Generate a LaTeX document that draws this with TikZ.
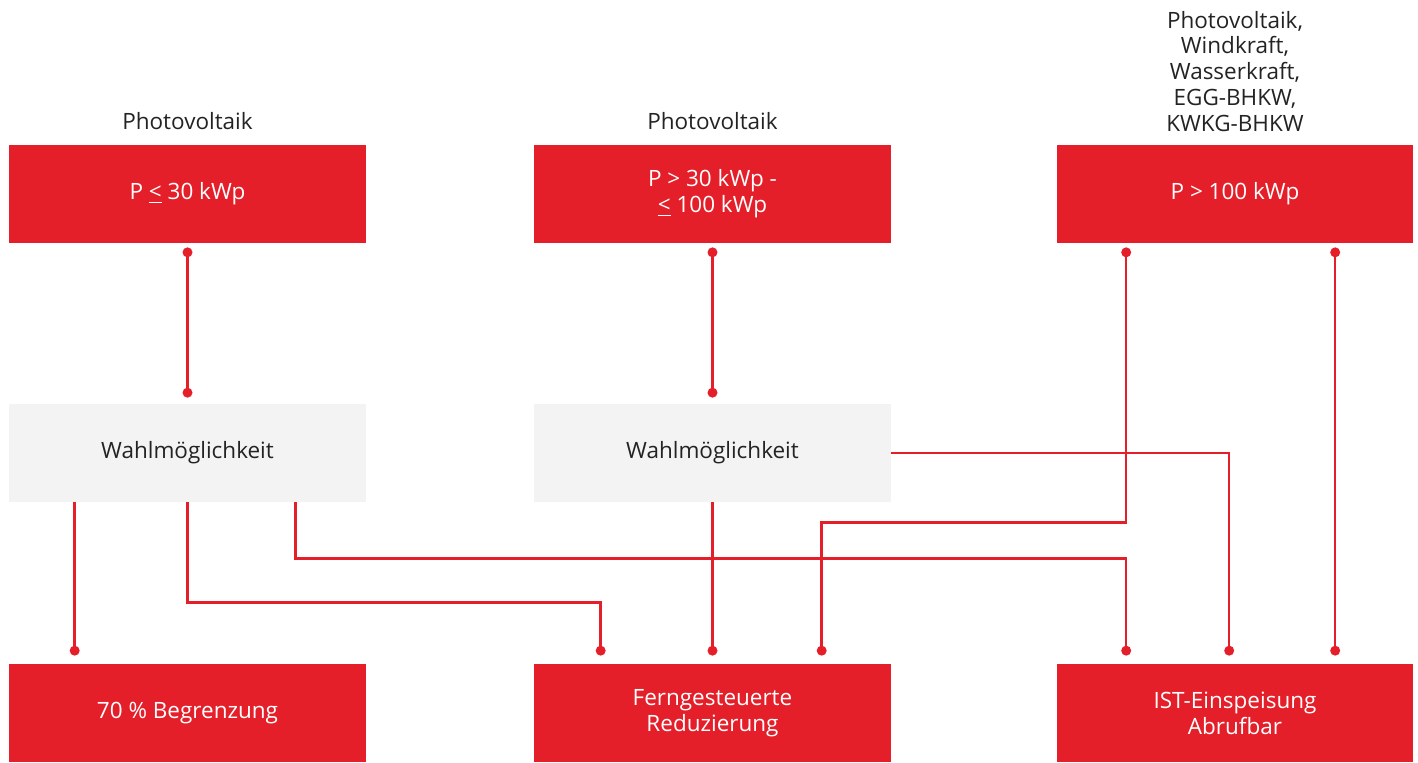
\documentclass[tikz,border=0pt]{standalone}
\usepackage{fontspec}
\setmainfont{Open Sans}
\usetikzlibrary{calc}
\definecolor{abbred}{RGB}{228,31,41}
\definecolor{abbgray}{RGB}{243,243,243}
\definecolor{txt}{RGB}{35,35,35}
\begin{document}
\begin{tikzpicture}[x=0.02cm,y=-0.02cm,
  font=\fontsize{12.8}{14.7}\selectfont,
  redbox/.style={fill=abbred, text=white, minimum width=7.14cm, minimum height=1.96cm, inner sep=0pt, align=center},
  graybox/.style={fill=abbgray, text=txt, minimum width=7.14cm, minimum height=1.96cm, inner sep=0pt, align=center},
  lbl/.style={text=txt, inner sep=0pt, align=center},
  link/.style={draw=abbred, line width=1.4pt},
  dotmark/.style={fill=abbred}]
\useasboundingbox (0,0) rectangle (1418,762);
% top boxes
\node[redbox] (t1) at (187.5,194) {P \underline{<} 30 kWp};
\node[redbox] (t2) at (712.5,194) {P > 30 kWp -\\\underline{<} 100 kWp};
\node[redbox] (t3) at (1235,194) {P > 100 kWp};
% labels
\node[lbl, anchor=base] (l1) at (187.5,129) {Photovoltaik};
\node[lbl, anchor=base] (l2) at (712.5,129) {Photovoltaik};
\node[lbl, anchor=south] (l3) at (1235,132) {Photovoltaik,\\Windkraft,\\Wasserkraft,\\EGG-BHKW,\\KWKG-BHKW};
% middle boxes
\node[graybox] (g1) at (187.5,453) {Wahlmöglichkeit};
\node[graybox] (g2) at (712.5,453) {Wahlmöglichkeit};
% bottom boxes
\node[redbox] (b1) at (187.5,713) {70 \% Begrenzung};
\node[redbox] (b2) at (712.5,713) {Ferngesteuerte\\Reduzierung};
\node[redbox] (b3) at (1235,713) {IST-Einspeisung\\Abrufbar};
% coordinates
\coordinate (t1d) at ($(t1.south)+(0,9)$);
\coordinate (t2d) at ($(t2.south)+(0,9)$);
\coordinate (t3a) at ($(t3.south west)+(70,9)$);
\coordinate (t3b) at ($(t3.south west)+(279,9)$);
\coordinate (g1u) at ($(g1.north)+(0,-11)$);
\coordinate (g2u) at ($(g2.north)+(0,-11)$);
\coordinate (g1a) at ($(g1.south west)+(66,0)$);
\coordinate (g1c) at ($(g1.south)+(108,0)$);
\coordinate (b1a) at ($(b1.north west)+(66,-13)$);
\coordinate (b2a) at ($(b2.north west)+(67,-13)$);
\coordinate (b2b) at ($(b2.north)+(0,-13)$);
\coordinate (b2c) at ($(b2.north west)+(288,-13)$);
\coordinate (b3a) at ($(b3.north west)+(70,-13)$);
\coordinate (b3b) at ($(b3.north west)+(173,-13)$);
\coordinate (b3c) at ($(b3.north west)+(279,-13)$);
% connectors
\draw[link] (t1d) -- (g1u);
\draw[link] (t2d) -- (g2u);
\draw[link] (t3a) -- ++(0,270) -| (b2c);
\draw[link] (t3b) -- (b3c);
\draw[link] (g1a) -- (b1a);
\draw[link] (g1.south) -- ++(0,100) -| (b2a);
\draw[link] (g1c) -- ++(0,56) -| (b3a);
\draw[link] (g2.south) -- (b2b);
\draw[link] (g2.east) -| (b3b);
% dots
\foreach \p in {t1d,t2d,t3a,t3b,g1u,g2u,b1a,b2a,b2b,b2c,b3a,b3b,b3c}
  \fill[dotmark] (\p) circle[radius=0.1cm];
\end{tikzpicture}
\end{document}
